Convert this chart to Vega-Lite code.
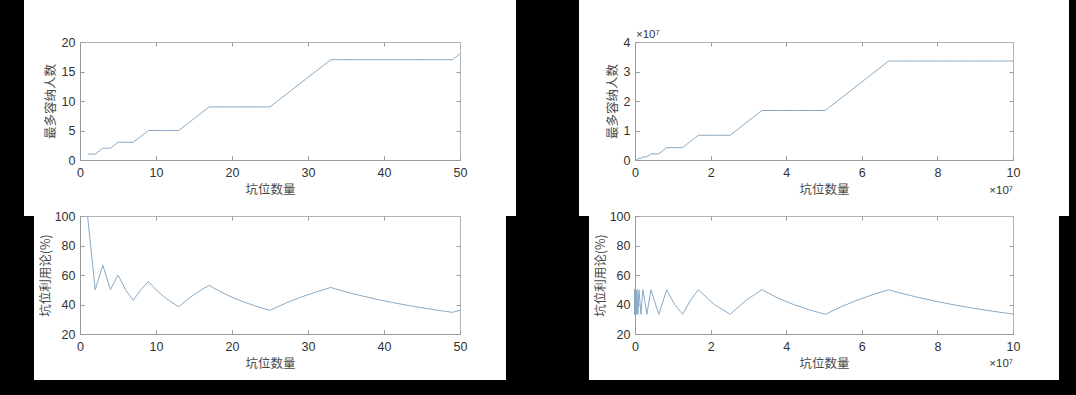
{
  "$schema": "https://vega.github.io/schema/vega-lite/v6.json",
  "background": "black",
  "autosize": {"type": "none"},
  "padding": {"left": 80, "top": 42, "right": 996, "bottom": 353},
  "config": {
    "axis": {
      "domainColor": "#9a9a9a", "tickColor": "#9a9a9a", "gridColor": "#9a9a9a",
      "domainWidth": 1, "tickWidth": 1, "gridWidth": 1, "tickSize": -4,
      "labelColor": "#333333", "labelFont": "Liberation Sans", "labelFontSize": 12.5,
      "labelFlush": false, "labelOverlap": false,
      "titleColor": "#4a4a4a", "titleFont": "Noto Sans CJK SC", "titleFontSize": 12.5, "titleFontWeight": "normal"
    },
    "axisX": {"labelPadding": 10.5, "titlePadding": 4},
    "axisY": {"labelPadding": 9, "titlePadding": 4}
  },
  "datasets": {
    "left": [
      {"n": 1, "f": 1, "u": 100}, {"n": 2, "f": 1, "u": 50}, {"n": 3, "f": 2, "u": 66.67}, {"n": 4, "f": 2, "u": 50},
      {"n": 5, "f": 3, "u": 60}, {"n": 6, "f": 3, "u": 50}, {"n": 7, "f": 3, "u": 42.86}, {"n": 8, "f": 4, "u": 50},
      {"n": 9, "f": 5, "u": 55.56}, {"n": 10, "f": 5, "u": 50}, {"n": 11, "f": 5, "u": 45.45}, {"n": 12, "f": 5, "u": 41.67},
      {"n": 13, "f": 5, "u": 38.46}, {"n": 14, "f": 6, "u": 42.86}, {"n": 15, "f": 7, "u": 46.67}, {"n": 16, "f": 8, "u": 50},
      {"n": 17, "f": 9, "u": 52.94}, {"n": 18, "f": 9, "u": 50}, {"n": 19, "f": 9, "u": 47.37}, {"n": 20, "f": 9, "u": 45},
      {"n": 21, "f": 9, "u": 42.86}, {"n": 22, "f": 9, "u": 40.91}, {"n": 23, "f": 9, "u": 39.13}, {"n": 24, "f": 9, "u": 37.5},
      {"n": 25, "f": 9, "u": 36}, {"n": 26, "f": 10, "u": 38.46}, {"n": 27, "f": 11, "u": 40.74}, {"n": 28, "f": 12, "u": 42.86},
      {"n": 29, "f": 13, "u": 44.83}, {"n": 30, "f": 14, "u": 46.67}, {"n": 31, "f": 15, "u": 48.39}, {"n": 32, "f": 16, "u": 50},
      {"n": 33, "f": 17, "u": 51.52}, {"n": 34, "f": 17, "u": 50}, {"n": 35, "f": 17, "u": 48.57}, {"n": 36, "f": 17, "u": 47.22},
      {"n": 37, "f": 17, "u": 45.95}, {"n": 38, "f": 17, "u": 44.74}, {"n": 39, "f": 17, "u": 43.59}, {"n": 40, "f": 17, "u": 42.5},
      {"n": 41, "f": 17, "u": 41.46}, {"n": 42, "f": 17, "u": 40.48}, {"n": 43, "f": 17, "u": 39.53}, {"n": 44, "f": 17, "u": 38.64},
      {"n": 45, "f": 17, "u": 37.78}, {"n": 46, "f": 17, "u": 36.96}, {"n": 47, "f": 17, "u": 36.17}, {"n": 48, "f": 17, "u": 35.42},
      {"n": 49, "f": 17, "u": 34.69}, {"n": 50, "f": 18, "u": 36}
    ],
    "right": [
      {"n": 1025, "f": 513, "u": 50.05}, {"n": 1537, "f": 513, "u": 33.38},
      {"n": 2049, "f": 1025, "u": 50.02}, {"n": 3073, "f": 1025, "u": 33.35},
      {"n": 4097, "f": 2049, "u": 50.01}, {"n": 6145, "f": 2049, "u": 33.34},
      {"n": 8193, "f": 4097, "u": 50.01}, {"n": 12289, "f": 4097, "u": 33.34},
      {"n": 16385, "f": 8193, "u": 50}, {"n": 24577, "f": 8193, "u": 33.34},
      {"n": 32769, "f": 16385, "u": 50}, {"n": 49153, "f": 16385, "u": 33.33},
      {"n": 65537, "f": 32769, "u": 50}, {"n": 98305, "f": 32769, "u": 33.33},
      {"n": 131073, "f": 65537, "u": 50}, {"n": 196609, "f": 65537, "u": 33.33},
      {"n": 262145, "f": 131073, "u": 50}, {"n": 393217, "f": 131073, "u": 33.33},
      {"n": 524289, "f": 262145, "u": 50}, {"n": 786433, "f": 262145, "u": 33.33},
      {"n": 1048577, "f": 524289, "u": 50}, {"n": 1572865, "f": 524289, "u": 33.33},
      {"n": 2097153, "f": 1048577, "u": 50}, {"n": 3145729, "f": 1048577, "u": 33.33},
      {"n": 4194305, "f": 2097153, "u": 50}, {"n": 6291457, "f": 2097153, "u": 33.33},
      {"n": 8388609, "f": 4194305, "u": 50}, {"n": 10485761, "f": 4194305, "u": 40},
      {"n": 12582913, "f": 4194305, "u": 33.33}, {"n": 14680065, "f": 6291457, "u": 42.86},
      {"n": 16777217, "f": 8388609, "u": 50}, {"n": 20971521, "f": 8388609, "u": 40},
      {"n": 25165825, "f": 8388609, "u": 33.33}, {"n": 29360129, "f": 12582913, "u": 42.86},
      {"n": 33554433, "f": 16777217, "u": 50}, {"n": 37748737, "f": 16777217, "u": 44.44},
      {"n": 41943041, "f": 16777217, "u": 40}, {"n": 46137345, "f": 16777217, "u": 36.36},
      {"n": 50331649, "f": 16777217, "u": 33.33}, {"n": 54525953, "f": 20971521, "u": 38.46},
      {"n": 58720257, "f": 25165825, "u": 42.86}, {"n": 62914561, "f": 29360129, "u": 46.67},
      {"n": 67108865, "f": 33554433, "u": 50}, {"n": 70000000, "f": 33554433, "u": 47.93},
      {"n": 75000000, "f": 33554433, "u": 44.74}, {"n": 80000000, "f": 33554433, "u": 41.94},
      {"n": 85000000, "f": 33554433, "u": 39.48}, {"n": 90000000, "f": 33554433, "u": 37.28},
      {"n": 95000000, "f": 33554433, "u": 35.32}, {"n": 100000000, "f": 33554433, "u": 33.55}
    ],
    "mult": [{"label": "×10⁷"}]
  },
  "columns": 2,
  "bounds": "flush",
  "spacing": {"row": 56, "column": 175},
  "concat": [
    {
      "width": 380, "height": 118,
      "view": {"fill": "white", "stroke": "white", "strokeWidth": 112},
      "data": {"name": "left"},
      "mark": {"type": "line", "color": "#88aac8", "strokeWidth": 1},
      "encoding": {
        "x": {"field": "n", "type": "quantitative", "scale": {"domain": [0, 50], "nice": false},
              "axis": {"title": "坑位数量", "values": [0, 10, 20, 30, 40, 50], "grid": true,
                       "gridDash": {"condition": {"test": "datum.value === 50", "value": [1, 0]}, "value": [4, 110, 4]}}},
        "y": {"field": "f", "type": "quantitative", "scale": {"domain": [0, 20], "nice": false, "zero": false},
              "axis": {"title": "最多容纳人数", "values": [0, 5, 10, 15, 20], "grid": true,
                       "gridDash": {"condition": {"test": "datum.value === 20", "value": [1, 0]}, "value": [4, 372, 4]}}}
      }
    },
    {
      "width": 378, "height": 118,
      "view": {"fill": "white", "stroke": "white", "strokeWidth": 112},
      "layer": [
        {
          "data": {"name": "right"},
          "mark": {"type": "line", "color": "#88aac8", "strokeWidth": 1},
          "encoding": {
            "x": {"field": "n", "type": "quantitative", "scale": {"domain": [0, 100000000], "nice": false},
                  "axis": {"title": "坑位数量", "values": [0, 20000000, 40000000, 60000000, 80000000, 100000000],
                           "labelExpr": "'' + datum.value / 10000000", "grid": true,
                           "gridDash": {"condition": {"test": "datum.value === 100000000", "value": [1, 0]}, "value": [4, 110, 4]}}},
            "y": {"field": "f", "type": "quantitative", "scale": {"domain": [0, 40000000], "nice": false, "zero": false},
                  "axis": {"title": "最多容纳人数", "values": [0, 10000000, 20000000, 30000000, 40000000],
                           "labelExpr": "'' + datum.value / 10000000", "grid": true,
                           "gridDash": {"condition": {"test": "datum.value === 40000000", "value": [1, 0]}, "value": [4, 370, 4]}}}
          }
        },
        {
          "data": {"name": "mult"},
          "mark": {"type": "text", "align": "left", "baseline": "middle", "dx": 1, "dy": -7,
                   "font": "Liberation Sans", "fontSize": 11.5, "color": "#333333"},
          "encoding": {
            "x": {"datum": 0, "type": "quantitative",
                  "axis": {"title": "坑位数量", "values": [0, 20000000, 40000000, 60000000, 80000000, 100000000],
                           "labelExpr": "'' + datum.value / 10000000", "grid": true,
                           "gridDash": {"condition": {"test": "datum.value === 100000000", "value": [1, 0]}, "value": [4, 110, 4]}}},
            "y": {"datum": 40000000, "type": "quantitative",
                  "axis": {"title": "最多容纳人数", "values": [0, 10000000, 20000000, 30000000, 40000000],
                           "labelExpr": "'' + datum.value / 10000000", "grid": true,
                           "gridDash": {"condition": {"test": "datum.value === 40000000", "value": [1, 0]}, "value": [4, 370, 4]}}},
            "text": {"field": "label"}
          }
        },
        {
          "data": {"name": "mult"},
          "mark": {"type": "text", "align": "right", "baseline": "middle", "dy": 31,
                   "font": "Liberation Sans", "fontSize": 11.5, "color": "#333333"},
          "encoding": {
            "x": {"datum": 100000000, "type": "quantitative",
                  "axis": {"title": "坑位数量", "values": [0, 20000000, 40000000, 60000000, 80000000, 100000000],
                           "labelExpr": "'' + datum.value / 10000000", "grid": true,
                           "gridDash": {"condition": {"test": "datum.value === 100000000", "value": [1, 0]}, "value": [4, 110, 4]}}},
            "y": {"datum": 0, "type": "quantitative",
                  "axis": {"title": "最多容纳人数", "values": [0, 10000000, 20000000, 30000000, 40000000],
                           "labelExpr": "'' + datum.value / 10000000", "grid": true,
                           "gridDash": {"condition": {"test": "datum.value === 40000000", "value": [1, 0]}, "value": [4, 370, 4]}}},
            "text": {"field": "label"}
          }
        }
      ]
    },
    {
      "width": 380, "height": 118,
      "view": {"fill": "white", "stroke": "white", "strokeWidth": 92, "strokeDash": [0, 380, 616]},
      "data": {"name": "left"},
      "mark": {"type": "line", "color": "#88aac8", "strokeWidth": 1},
      "encoding": {
        "x": {"field": "n", "type": "quantitative", "scale": {"domain": [0, 50], "nice": false},
              "axis": {"title": "坑位数量", "values": [0, 10, 20, 30, 40, 50], "grid": true,
                       "gridDash": {"condition": {"test": "datum.value === 50", "value": [1, 0]}, "value": [4, 110, 4]}}},
        "y": {"field": "u", "type": "quantitative", "scale": {"domain": [20, 100], "nice": false, "zero": false},
              "axis": {"title": "坑位利用论(%)", "values": [20, 40, 60, 80, 100], "grid": true, "titlePadding": 2,
                       "gridDash": {"condition": {"test": "datum.value === 100", "value": [1, 0]}, "value": [4, 372, 4]}}}
      }
    },
    {
      "width": 378, "height": 118,
      "view": {"fill": "white", "stroke": "white", "strokeWidth": 92, "strokeDash": [0, 378, 614]},
      "layer": [
        {
          "data": {"name": "right"},
          "mark": {"type": "line", "color": "#88aac8", "strokeWidth": 1},
          "encoding": {
            "x": {"field": "n", "type": "quantitative", "scale": {"domain": [0, 100000000], "nice": false},
                  "axis": {"title": "坑位数量", "values": [0, 20000000, 40000000, 60000000, 80000000, 100000000],
                           "labelExpr": "'' + datum.value / 10000000", "grid": true,
                           "gridDash": {"condition": {"test": "datum.value === 100000000", "value": [1, 0]}, "value": [4, 110, 4]}}},
            "y": {"field": "u", "type": "quantitative", "scale": {"domain": [20, 100], "nice": false, "zero": false},
                  "axis": {"title": "坑位利用论(%)", "values": [20, 40, 60, 80, 100], "grid": true, "titlePadding": 2,
                           "gridDash": {"condition": {"test": "datum.value === 100", "value": [1, 0]}, "value": [4, 370, 4]}}}
          }
        },
        {
          "data": {"name": "mult"},
          "mark": {"type": "text", "align": "right", "baseline": "middle", "dy": 30,
                   "font": "Liberation Sans", "fontSize": 11.5, "color": "#333333"},
          "encoding": {
            "x": {"datum": 100000000, "type": "quantitative",
                  "axis": {"title": "坑位数量", "values": [0, 20000000, 40000000, 60000000, 80000000, 100000000],
                           "labelExpr": "'' + datum.value / 10000000", "grid": true,
                           "gridDash": {"condition": {"test": "datum.value === 100000000", "value": [1, 0]}, "value": [4, 110, 4]}}},
            "y": {"datum": 20, "type": "quantitative",
                  "axis": {"title": "坑位利用论(%)", "values": [20, 40, 60, 80, 100], "grid": true, "titlePadding": 2,
                           "gridDash": {"condition": {"test": "datum.value === 100", "value": [1, 0]}, "value": [4, 370, 4]}}},
            "text": {"field": "label"}
          }
        }
      ]
    }
  ]
}
